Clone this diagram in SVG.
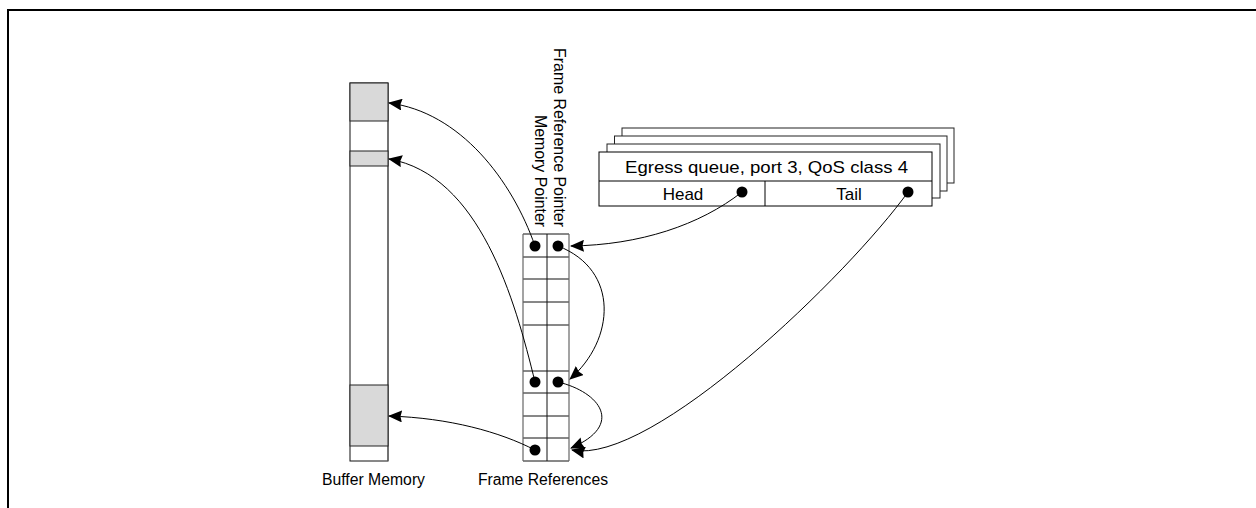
<svg xmlns="http://www.w3.org/2000/svg" width="1256" height="508" viewBox="0 0 1256 508">
<style>
text{font-family:"Liberation Sans",Arial,sans-serif;fill:#000}
.box{fill:#fff;stroke:#000;stroke-width:1}
.back{fill:#fff;stroke:#222;stroke-width:1}
.gray{fill:#d9d9d9;stroke:#222;stroke-width:1}
.row{stroke:#111;stroke-width:1}
.vline{stroke:#666;stroke-width:1.2}
.dot{fill:#000}
.conn{fill:none;stroke:#000;stroke-width:1}
</style>
<defs>
<marker id="arr" markerUnits="userSpaceOnUse" viewBox="0 0 14 12" refX="13" refY="6" markerWidth="14" markerHeight="12" orient="auto">
<path d="M0,0 L14,6 L0,12 L1.5,6 z" fill="#000"/>
</marker>
</defs>
<rect width="1256" height="508" fill="#fff"/>
<path d="M8,508 V10 H1256" fill="none" stroke="#000" stroke-width="2"/>

<g id="buffer-memory">
<rect x="350" y="83" width="38" height="378" fill="#fff" stroke="#111" stroke-width="1"/>
<line x1="388" y1="83" x2="388" y2="461" class="vline"/>
<rect x="350" y="83" width="38" height="38" class="gray"/>
<rect x="350" y="151" width="38" height="15" class="gray"/>
<rect x="350" y="385" width="38" height="61" class="gray"/>
<text x="322" y="485" font-size="16" textLength="103" lengthAdjust="spacingAndGlyphs">Buffer Memory</text>
</g>

<g id="frame-references">
<rect x="523" y="234" width="46" height="227" fill="#fff" stroke="none"/>
<g class="row">
<line x1="523" y1="234" x2="569" y2="234"/>
<line x1="523" y1="257" x2="569" y2="257"/>
<line x1="523" y1="279" x2="569" y2="279"/>
<line x1="523" y1="302" x2="569" y2="302"/>
<line x1="523" y1="325" x2="569" y2="325"/>
<line x1="523" y1="371" x2="569" y2="371"/>
<line x1="523" y1="393" x2="569" y2="393"/>
<line x1="523" y1="416" x2="569" y2="416"/>
<line x1="523" y1="438" x2="569" y2="438"/>
<line x1="523" y1="461" x2="569" y2="461"/>
</g>
<line x1="523" y1="234" x2="523" y2="461" class="vline"/>
<line x1="547" y1="234" x2="547" y2="461" stroke="#111" stroke-width="1"/>
<line x1="569" y1="234" x2="569" y2="461" class="vline"/>
<circle cx="535" cy="246" r="5.5" class="dot"/>
<circle cx="558" cy="246" r="5.5" class="dot"/>
<circle cx="535" cy="382" r="5.5" class="dot"/>
<circle cx="558" cy="382" r="5.5" class="dot"/>
<circle cx="535" cy="450" r="5.5" class="dot"/>
<text transform="translate(554,48) rotate(90)" font-size="17" textLength="179" lengthAdjust="spacingAndGlyphs">Frame Reference Pointer</text>
<text transform="translate(535,115) rotate(90)" font-size="17" textLength="112" lengthAdjust="spacingAndGlyphs">Memory Pointer</text>
<text x="478" y="485" font-size="16" textLength="130" lengthAdjust="spacingAndGlyphs">Frame References</text>
</g>

<g id="egress-queue">
<rect x="622" y="128" width="332" height="55" class="back"/>
<rect x="614.5" y="136" width="332.5" height="55" class="back"/>
<rect x="607" y="144" width="333" height="54" class="back"/>
<rect x="599" y="152" width="333" height="54" class="box"/>
<line x1="599" y1="181" x2="932" y2="181" stroke="#000"/>
<line x1="765" y1="181" x2="765" y2="206" stroke="#000"/>
<text x="625" y="173" font-size="17" textLength="283" lengthAdjust="spacingAndGlyphs">Egress queue, port 3, QoS class 4</text>
<text x="683" y="200" font-size="17" text-anchor="middle">Head</text>
<text x="849" y="200" font-size="17" text-anchor="middle">Tail</text>
<circle cx="742" cy="192" r="5.5" class="dot"/>
<circle cx="908" cy="192" r="5.5" class="dot"/>
</g>

<g id="connectors">
<path class="conn" marker-end="url(#arr)" d="M535,246 C512,180 460,112 389,103"/>
<path class="conn" marker-end="url(#arr)" d="M535,382 C515,300 480,175 389,159"/>
<path class="conn" marker-end="url(#arr)" d="M535,450 C500,432 450,418 389,416"/>
<path class="conn" marker-end="url(#arr)" d="M558,246 C620,270 615,340 570,379"/>
<path class="conn" marker-end="url(#arr)" d="M558,382 C600,392 625,425 571,448"/>
<path class="conn" marker-end="url(#arr)" d="M742,192 C700,225 640,245 571,246"/>
<path class="conn" marker-end="url(#arr)" d="M908,192 C850,273 652,466 572,450"/>
</g>
</svg>
